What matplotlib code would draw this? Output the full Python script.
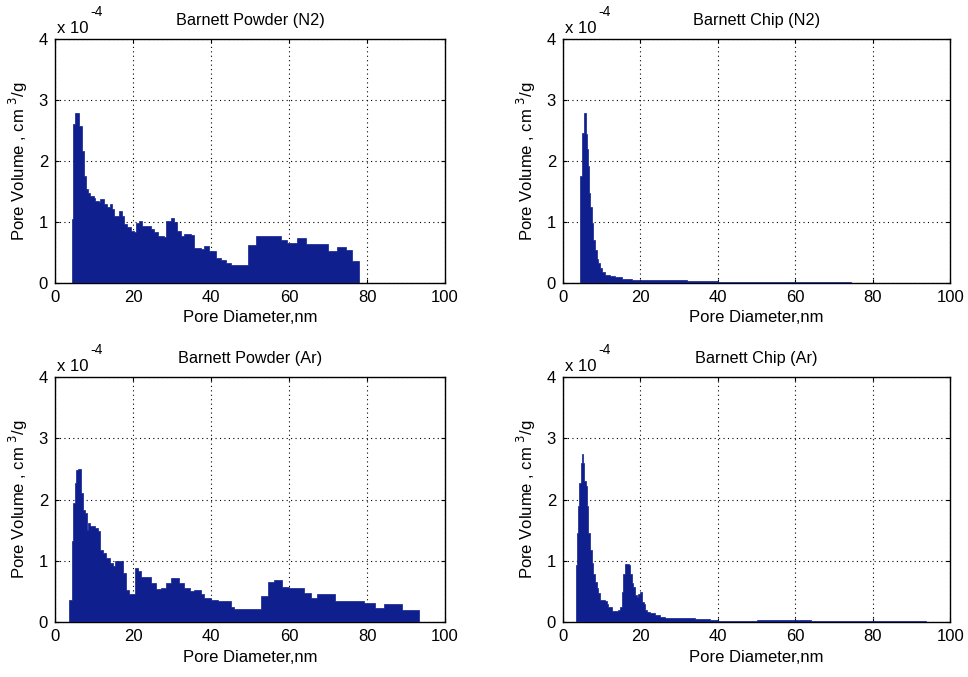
import matplotlib
matplotlib.use("Agg")
import matplotlib.pyplot as plt

plt.rcParams['font.family'] = ['Liberation Sans', 'DejaVu Sans']

# ---- data (pore volume in units of 1e-4 cm^3/g) ----
powder_n2_diam = [4.3, 4.7, 5.1, 6.1, 7.0, 7.5, 8.0, 8.4, 9.0, 9.9, 10.3, 11.2, 11.6, 12.5,
                  13.4, 14.0, 14.6, 15.1, 16.4, 17.2, 17.7, 18.5, 19.4, 20.2, 20.7, 21.5,
                  22.4, 24.5, 25.4, 26.3, 28.0, 28.4, 29.7, 30.6, 31.4, 32.3, 33.2, 34.9,
                  35.7, 37.5, 38.3, 39.6, 41.3, 42.5, 43.8, 45.1, 49.6, 51.5, 57.9, 59.6,
                  62.1, 64.3, 70.0, 72.2, 74.5, 76.2, 78.0]
powder_n2_vol = [1.05, 2.60, 2.79, 2.58, 2.16, 1.75, 1.54, 1.48, 1.43, 1.40, 1.35, 1.32, 1.37,
                 1.29, 1.24, 1.29, 1.21, 1.10, 1.18, 1.10, 0.96, 0.91, 0.86, 0.83, 0.99, 1.02,
                 0.94, 0.89, 0.83, 0.77, 0.75, 1.02, 1.06, 1.00, 0.86, 0.77, 0.80, 0.78,
                 0.58, 0.56, 0.61, 0.52, 0.41, 0.38, 0.33, 0.30, 0.63, 0.77, 0.70, 0.66,
                 0.74, 0.64, 0.52, 0.59, 0.54, 0.36]

chip_n2_diam = [4.4, 4.8, 5.3, 5.9, 6.1, 6.4, 6.7, 7.0, 7.4, 7.8, 8.3, 8.7, 9.1, 9.6, 10.0,
                10.9, 12.1, 13.4, 15.2, 17.8, 20.3, 26.4, 29.8, 32.0, 40.0, 74.3]
chip_n2_vol = [1.75, 2.46, 2.79, 2.45, 2.19, 1.91, 1.47, 1.25, 0.98, 0.70, 0.54, 0.40, 0.32,
               0.24, 0.18, 0.13, 0.11, 0.09, 0.06, 0.044, 0.055, 0.045, 0.055, 0.03, 0.008]

powder_ar_diam = [3.6, 4.3, 4.7, 5.1, 5.5, 6.0, 6.6, 7.2, 7.7, 8.1, 8.5, 8.9, 10.2, 11.1, 11.5,
                  12.3, 13.2, 14.0, 14.9, 15.3, 17.4, 18.3, 19.1, 20.4, 21.3, 22.1, 24.7,
                  26.0, 27.2, 28.5, 29.8, 31.9, 33.2, 34.5, 35.7, 37.4, 38.3, 40.0, 41.7,
                  45.1, 46.0, 52.8, 54.5, 56.2, 58.3, 60.0, 63.8, 65.5, 67.2, 69.8, 71.9,
                  79.1, 82.1, 84.3, 88.9, 93.2]
powder_ar_vol = [0.36, 1.32, 1.94, 2.27, 2.48, 2.50, 2.10, 1.83, 1.78, 1.50, 1.61, 1.57, 1.53,
                 1.48, 1.18, 1.12, 1.04, 0.96, 0.91, 1.00, 0.80, 0.53, 0.45, 0.88, 0.83, 0.74,
                 0.64, 0.54, 0.55, 0.64, 0.72, 0.64, 0.55, 0.50, 0.52, 0.45, 0.39, 0.36,
                 0.34, 0.24, 0.21, 0.43, 0.66, 0.69, 0.58, 0.55, 0.47, 0.39, 0.46, 0.45,
                 0.34, 0.31, 0.23, 0.29, 0.19]

chip_ar_diam = [3.27, 3.53, 3.79, 4.13, 4.56, 4.82, 5.25, 5.51, 5.86, 6.12, 6.55, 6.98, 7.41,
                7.84, 8.27, 8.70, 9.13, 9.56, 10.85, 11.28, 11.71, 12.57, 14.3, 14.73, 15.16,
                15.59, 16.02, 17.05, 17.31, 17.74, 18.17, 18.6, 19.04, 19.47, 19.9, 20.3,
                20.8, 21.2, 21.6, 22.5, 23.8, 25.1, 26.4, 34.1, 38.0, 40.0, 50.0, 64.0, 93.7]
chip_ar_vol = [0.93, 1.45, 1.90, 2.27, 2.60, 2.74, 2.60, 2.30, 2.22, 1.89, 1.45, 1.18, 0.96,
               0.79, 0.66, 0.55, 0.47, 0.36, 0.35, 0.30, 0.25, 0.18, 0.20, 0.25, 0.49,
               0.79, 0.94, 0.93, 0.79, 0.63, 0.58, 0.44, 0.41, 0.46, 0.49, 0.33,
               0.30, 0.19, 0.16, 0.14, 0.11, 0.08, 0.07, 0.05, 0.04, 0.022, 0.028, 0.01]

titles = ["Barnett Powder (N2)", "Barnett Chip (N2)", "Barnett Powder (Ar)", "Barnett Chip (Ar)"]
x_ticks = [0, 20, 40, 60, 80, 100]
y_ticks = [0, 1, 2, 3, 4]

panels = [(powder_n2_diam, powder_n2_vol), (chip_n2_diam, chip_n2_vol),
          (powder_ar_diam, powder_ar_vol), (chip_ar_diam, chip_ar_vol)]

fig = plt.figure(figsize=(9.68, 6.77), dpi=100)
positions = [
    [0.0568, 0.582, 0.403, 0.3604],
    [0.5816, 0.582, 0.400, 0.3604],
    [0.0568, 0.0812, 0.403, 0.3619],
    [0.5816, 0.0812, 0.400, 0.3619],
]

fill_color = '#0f1f8e'
for pos, title, (diam, vol) in zip(positions, titles, panels):
    ax = fig.add_axes(pos)
    ax.stairs(vol, diam, fill=True, facecolor=fill_color, edgecolor=fill_color,
              linewidth=0.5, baseline=0, zorder=3)
    ax.set_xlim(0, 100)
    ax.set_ylim(0, 4)
    ax.set_xticks(x_ticks)
    ax.set_yticks(y_ticks)
    ax.tick_params(direction='in', length=3, top=True, right=True, labelsize=12,
                   colors='black', pad=5)
    ax.grid(True, color='black', linestyle=(0, (1, 3)), linewidth=0.8, zorder=0)
    for s in ax.spines.values():
        s.set_linewidth(1.0)
        s.set_color('black')
    ax.set_title(title, fontsize=11.7, pad=10)
    ax.set_xlabel("Pore Diameter,nm", fontsize=12, labelpad=4)
    ax.set_ylabel(r"Pore Volume , cm $^{3}$/g", fontsize=12, labelpad=6)
    ax.annotate("x 10", xy=(0, 1), xycoords='axes fraction', xytext=(2, 3),
                textcoords='offset pixels', fontsize=12, ha='left', va='bottom')
    ax.annotate("-4", xy=(0, 1), xycoords='axes fraction', xytext=(35, 20),
                textcoords='offset pixels', fontsize=10, ha='left', va='bottom')

fig.savefig("out.png", dpi=100)
